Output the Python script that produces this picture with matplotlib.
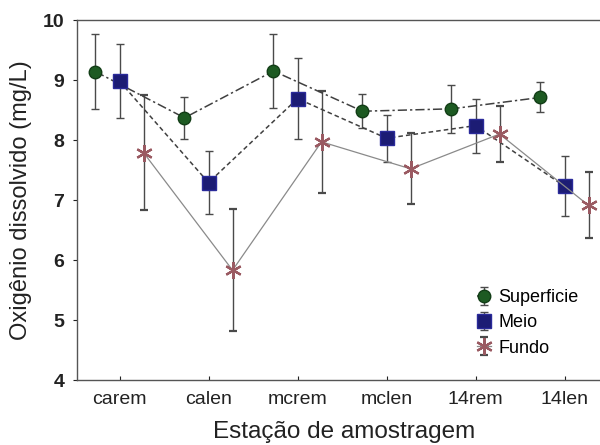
import matplotlib
matplotlib.use("Agg")
import matplotlib.pyplot as plt
import numpy as np

plt.rcParams['font.family'] = ['Liberation Sans', 'DejaVu Sans']

stations = ["carem", "calen", "mcrem", "mclen", "14rem", "14len"]

superficie_mean = [9.14, 8.37, 9.15, 8.48, 8.52, 8.71]
superficie_err = [0.62, 0.35, 0.62, 0.28, 0.40, 0.25]

meio_mean = [8.98, 7.29, 8.69, 8.03, 8.24, 7.23]
meio_err = [0.62, 0.53, 0.68, 0.39, 0.45, 0.50]

fundo_mean = [7.79, 5.83, 7.97, 7.52, 8.10, 6.91]
fundo_err = [0.96, 1.02, 0.85, 0.59, 0.47, 0.55]

y_ticks = [4, 5, 6, 7, 8, 9, 10]

fig = plt.figure(figsize=(6.0, 4.45), dpi=100)
ax = fig.add_axes([0.128, 0.146, 0.89, 0.809])

x = np.arange(len(stations))
offset = 0.27

series = [
    ("Superficie", superficie_mean, superficie_err, -offset,
     dict(marker='o', ms=9, mfc='#1d5a22', mec='#123d16', ls=(0, (6, 2, 1.5, 2)),
          color='#404040', lw=1.1)),
    ("Meio", meio_mean, meio_err, 0.0,
     dict(marker='s', ms=9.5, mfc='#1c1c74', mec='#2a2a9a', ls=(0, (3, 2)),
          color='#404040', lw=1.1)),
    ("Fundo", fundo_mean, fundo_err, offset,
     dict(marker=(6, 2, 0), ms=12, mfc='#9a5a62', mec='#9a5a62', mew=1.6, ls='-',
          color='#8a8a8a', lw=0.9)),
]

for label, mean, err, dx, style in series:
    ax.errorbar(x + dx, mean, yerr=err, capsize=3, ecolor='#4a4a4a', elinewidth=1.0,
                capthick=1.0, label=label, zorder=3, **style)

ax.set_xlim(-0.48, 5.52)
ax.set_ylim(4, 10)
ax.set_yticks(y_ticks)
ax.set_xticks(x)
ax.set_xticklabels(stations)

ax.tick_params(axis='both', labelsize=14, colors='#222222')
ax.tick_params(axis='x', direction='in', length=3, pad=8)
ax.tick_params(axis='y', direction='out', length=3, pad=6)
for lab in ax.get_yticklabels():
    lab.set_fontweight('bold')

for side in ['left', 'bottom', 'top']:
    ax.spines[side].set_color('#555555')
    ax.spines[side].set_linewidth(1.0)
ax.spines['right'].set_visible(False)

ax.set_ylabel("Oxigênio dissolvido (mg/L)", fontsize=17, color='#222222', labelpad=8)
ax.set_xlabel("Estação de amostragem", fontsize=17.5, color='#222222', labelpad=9)

handles, labels = ax.get_legend_handles_labels()
leg = ax.legend(handles, labels, loc='lower left', bbox_to_anchor=(0.735, 0.045),
                frameon=False, fontsize=13, handlelength=0.8, handletextpad=0.4,
                labelspacing=0.45, borderaxespad=0)
for line in leg.get_lines():
    line.set_linestyle('None')

fig.savefig("out.png", dpi=100)
